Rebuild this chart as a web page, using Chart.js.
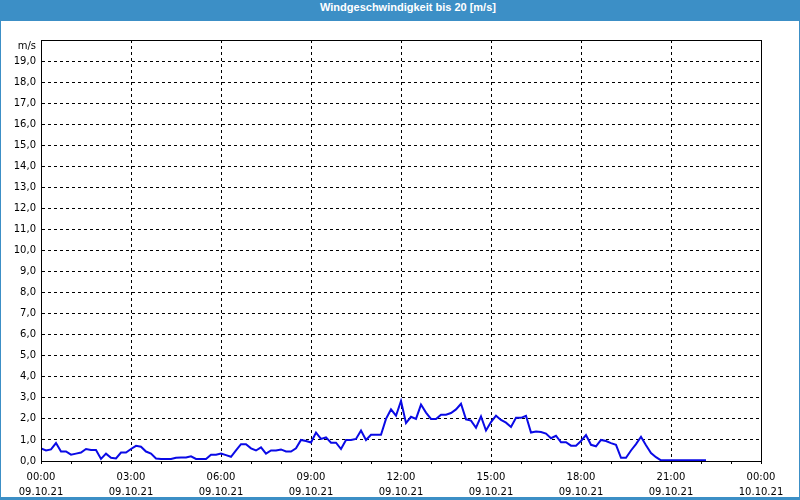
<!DOCTYPE html>
<html>
<head>
<meta charset="utf-8">
<script src="https://cdn.jsdelivr.net/npm/chart.js@4"></script>
<style>
 body { margin: 0; background: #fff; }
 #frame {
  width: 800px; height: 500px; box-sizing: border-box;
  border: 1px solid #3c8fc6; border-bottom-width: 3px; background: #fff;
 }
 #title {
  height: 20px; line-height: 20px; background: #3c8fc6; color: #fff;
  font: bold 11px "Liberation Sans", sans-serif; text-align: center;
  padding-left: 16px;
 }
</style>
</head>
<body>
<div id="frame">
 <div id="title">Windgeschwindigkeit bis 20 [m/s]</div>
 <canvas id="windChart" width="798" height="476"></canvas>
</div>
<script>
// one value every 10 minutes, starting 09.10.21 00:00
const stepMinutes = 10;
const windSpeed = [
 0.6, 0.5, 0.55, 0.85, 0.45, 0.45, 0.3, 0.35, 0.4, 0.57, 0.52, 0.52,
 0.1, 0.35, 0.15, 0.12, 0.4, 0.4, 0.57, 0.72, 0.68, 0.45, 0.35, 0.12,
 0.1, 0.1, 0.1, 0.15, 0.17, 0.17, 0.22, 0.1, 0.1, 0.1, 0.3, 0.3,
 0.35, 0.28, 0.2, 0.5, 0.8, 0.8, 0.6, 0.5, 0.65, 0.35, 0.5, 0.5,
 0.55, 0.45, 0.45, 0.6, 1.0, 0.95, 0.88, 1.35, 1.05, 1.12, 0.87, 0.87,
 0.57, 1.0, 1.0, 1.05, 1.45, 1.0, 1.25, 1.25, 1.25, 2.0, 2.45, 2.15,
 2.85, 1.8, 2.1, 2.0, 2.68, 2.3, 2.0, 2.0, 2.2, 2.2, 2.28, 2.45,
 2.72, 1.98, 1.92, 1.58, 2.12, 1.45, 1.85, 2.15, 1.95, 1.82, 1.62, 2.05,
 2.05, 2.15, 1.35, 1.4, 1.38, 1.3, 1.08, 1.2, 0.89, 0.89, 0.73, 0.73,
 0.95, 1.23, 0.77, 0.7, 1.0, 0.95, 0.85, 0.77, 0.15, 0.15, 0.5, 0.8,
 1.15, 0.75, 0.38, 0.18, 0.03, 0.03, 0.03, 0.03, 0.03, 0.03, 0.03, 0.03,
 0.03, 0.03
];
const timeLabels = ["00:00", "03:00", "06:00", "09:00", "12:00", "15:00", "18:00", "21:00", "00:00"];
const dateLabels = ["09.10.21", "09.10.21", "09.10.21", "09.10.21", "09.10.21", "09.10.21", "09.10.21", "09.10.21", "10.10.21"];
const yMax = 20;
const unitLabel = "m/s";

const tickFont = { family: "DejaVu Sans", size: 10, lineHeight: "15px" };

const frameBox = {
 id: "frameBox",
 afterDraw(chart) {
  const { ctx, chartArea: a } = chart;
  ctx.save();
  ctx.strokeStyle = "#000";
  ctx.lineWidth = 1;
  ctx.strokeRect(a.left + 0.5, a.top + 0.5, a.right - a.left, a.bottom - a.top);
  ctx.fillStyle = "#000";
  ctx.font = "10px 'DejaVu Sans'";
  ctx.textAlign = "right";
  ctx.textBaseline = "middle";
  ctx.fillText(unitLabel, a.left - 5, a.top + 6);
  ctx.restore();
 },
};

const ctx = document.getElementById("windChart").getContext("2d");
new Chart(ctx, {
 type: "line",
 data: {
  datasets: [
   {
    label: "Windgeschwindigkeit",
    data: windSpeed.map((v, i) => ({ x: (i * stepMinutes) / 60, y: v })),
    borderColor: "#0a0ae6",
    borderWidth: 2,
    pointRadius: 0,
    tension: 0,
   },
  ],
 },
 options: {
  responsive: false,
  animation: false,
  layout: { padding: { left: 0, right: 38, top: 19, bottom: 0 } },
  plugins: { legend: { display: false }, tooltip: { enabled: false } },
  scales: {
   x: {
    type: "linear",
    min: 0,
    max: 24,
    afterFit: (s) => { s.height = 36; },
    ticks: {
     stepSize: 1,
     autoSkip: false,
     maxRotation: 0,
     padding: 6,
     color: "#000",
     font: tickFont,
     callback: (v) => (v % 3 === 0 ? [timeLabels[v / 3], dateLabels[v / 3]] : ""),
    },
    grid: {
     color: (c) => (c.tick && c.tick.value % 3 === 0 && c.tick.value > 0 && c.tick.value < 24 ? "#000" : "rgba(0,0,0,0)"),
     tickColor: "#000",
     tickLength: 3,
     tickBorderDash: [],
    },
    border: { color: "#000", dash: [3, 3] },
   },
   y: {
    min: 0,
    max: yMax,
    afterFit: (s) => { s.width = 40; },
    ticks: {
     stepSize: 1,
     padding: 5,
     color: "#000",
     font: tickFont,
     callback: (v) => (v < yMax ? v.toFixed(1).replace(".", ",") : ""),
    },
    grid: {
     drawTicks: false,
     color: (c) => (c.tick && c.tick.value > 0 && c.tick.value < yMax ? "#000" : "rgba(0,0,0,0)"),
    },
    border: { color: "#000", dash: [3, 3] },
   },
  },
 },
 plugins: [frameBox],
});
</script>
</body>
</html>
